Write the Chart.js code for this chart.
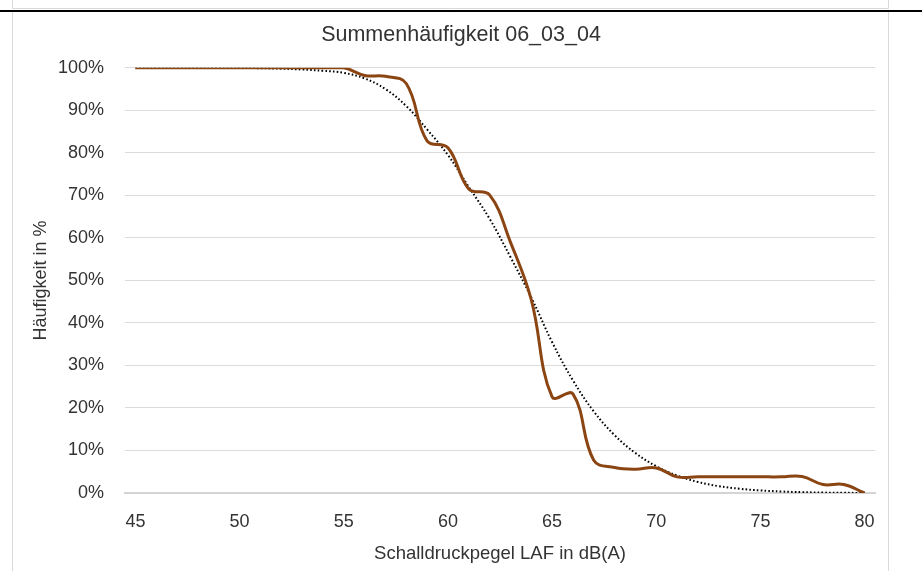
<!DOCTYPE html>
<html>
<head>
<meta charset="utf-8">
<script src="https://cdn.jsdelivr.net/npm/chart.js@4.4.1/dist/chart.umd.min.js"></script>
<style>
  html, body { margin: 0; padding: 0; background: #fff; }
  canvas { display: block; }
</style>
</head>
<body>
<canvas id="chart" width="922" height="571"></canvas>
<script>
// Schalldruckpegel (dB) categories
const levels = [45, 46, 47, 48, 49, 50, 51, 52, 53, 54, 55, 56, 57, 58, 59, 60, 61, 62,
  63, 64, 65, 66, 67, 68, 69, 70, 71, 72, 73, 74, 75, 76, 77, 78, 79, 80];

// measured cumulative frequency in %
const measured = [100, 100, 100, 100, 100, 100, 100, 100, 100, 100, 100, 98.2, 98.0, 96.3, 82.8, 81.2, 71.5, 70.1,
  59.0, 45.5, 22.6, 23.3, 7.7, 6.0, 5.6, 5.9, 3.8, 3.8, 3.8, 3.8, 3.8, 3.8, 3.9, 2.0, 2.0, 0];

// dotted reference curve in %
const fitted = [100, 100, 100, 100, 100, 100, 99.9, 99.8, 99.6, 99.3, 98.8, 97.5, 95.0, 91.0, 85.5, 79.5, 72.0, 64.5,
  55.5, 46.0, 35.5, 26.5, 19.2, 13.6, 9.4, 6.3, 4.1, 2.6, 1.6, 1.0, 0.6, 0.35, 0.2, 0.1, 0.05, 0];

const xTicks = [45, 50, 55, 60, 65, 70, 75, 80];
const yTicks = [0, 10, 20, 30, 40, 50, 60, 70, 80, 90, 100];

const textColor = "#333333";

// frame lines around the chart like in the sheet
const framePlugin = {
  id: "frame",
  beforeDraw(chart) {
    const c = chart.ctx;
    c.save();
    c.fillStyle = "#ffffff";
    c.fillRect(0, 0, chart.width, chart.height);
    c.strokeStyle = "#d9d9d9";
    c.lineWidth = 1;
    c.beginPath();
    c.moveTo(12.5, 0); c.lineTo(12.5, 8.5); c.lineTo(888.5, 8.5); c.lineTo(888.5, 0);
    c.moveTo(12.5, 12); c.lineTo(12.5, 571);
    c.moveTo(888.5, 12); c.lineTo(888.5, 571);
    c.stroke();
    c.strokeStyle = "#000000";
    c.lineWidth = 2;
    c.beginPath();
    c.moveTo(0, 11); c.lineTo(chart.width, 11);
    c.stroke();
    c.restore();
  }
};

const ctx = document.getElementById("chart").getContext("2d");
const myChart = new Chart(ctx, {
  type: "line",
  data: {
    datasets: [
      {
        label: "Messung",
        data: levels.map((x, i) => ({ x: x, y: measured[i] })),
        borderColor: "#8B4513",
        borderWidth: 3,
        pointRadius: 0,
        tension: 0.4,
        fill: false,
      },
      {
        label: "Verteilung",
        data: levels.map((x, i) => ({ x: x, y: fitted[i] })),
        borderColor: "#000000",
        borderWidth: 2,
        borderDash: [1.6, 2.2],
        pointRadius: 0,
        tension: 0.4,
        fill: false,
      },
    ],
  },
  options: {
    responsive: false,
    animation: false,
    layout: { padding: { left: 0, right: 0, top: 0, bottom: 6 } },
    plugins: {
      legend: { display: false },
      tooltip: { enabled: false },
      title: {
        display: true,
        text: "Summenhäufigkeit 06_03_04",
        color: textColor,
        font: { family: "'Liberation Sans Narrow', 'Liberation Sans', sans-serif", size: 21.5, weight: "normal" },
        padding: { top: 22, bottom: 20 },
      },
    },
    scales: {
      x: {
        type: "linear",
        min: 44.5,
        max: 80.5,
        afterBuildTicks: (axis) => { axis.ticks = xTicks.map((v) => ({ value: v })); },
        afterFit: (axis) => { axis.height = 72; },
        grid: { display: false, drawTicks: false },
        border: { display: true, color: "#d4d4d4", width: 2 },
        ticks: {
          color: textColor,
          padding: 18,
          maxRotation: 0,
          font: { family: "'Liberation Sans', sans-serif", size: 18 },
        },
        title: {
          display: true,
          text: "Schalldruckpegel LAF in dB(A)",
          color: textColor,
          font: { family: "'Liberation Sans', sans-serif", size: 18.5 },
          padding: { top: 4, bottom: 0 },
        },
      },
      y: {
        min: 0,
        max: 100,
        afterBuildTicks: (axis) => { axis.ticks = yTicks.map((v) => ({ value: v })); },
        afterFit: (axis) => { axis.width = 125; },
        grid: { color: "#dcdcdc", lineWidth: 1, drawTicks: false },
        border: { display: false },
        ticks: {
          color: textColor,
          padding: 21,
          font: { family: "'Liberation Sans', sans-serif", size: 18 },
          callback: (v) => v + "%",
        },
        title: {
          display: true,
          text: "Häufigkeit in %",
          color: textColor,
          font: { family: "'Liberation Sans', sans-serif", size: 18 },
          padding: { top: 30, bottom: 0 },
        },
      },
      // empty right margin so the plot ends where it does in the sheet
      yRight: {
        position: "right",
        min: 0,
        max: 100,
        afterFit: (axis) => { axis.width = 47; },
        grid: { display: false, drawTicks: false },
        border: { display: false },
        ticks: { display: false },
      },
    },
  },
  plugins: [framePlugin],
});
</script>
</body>
</html>
